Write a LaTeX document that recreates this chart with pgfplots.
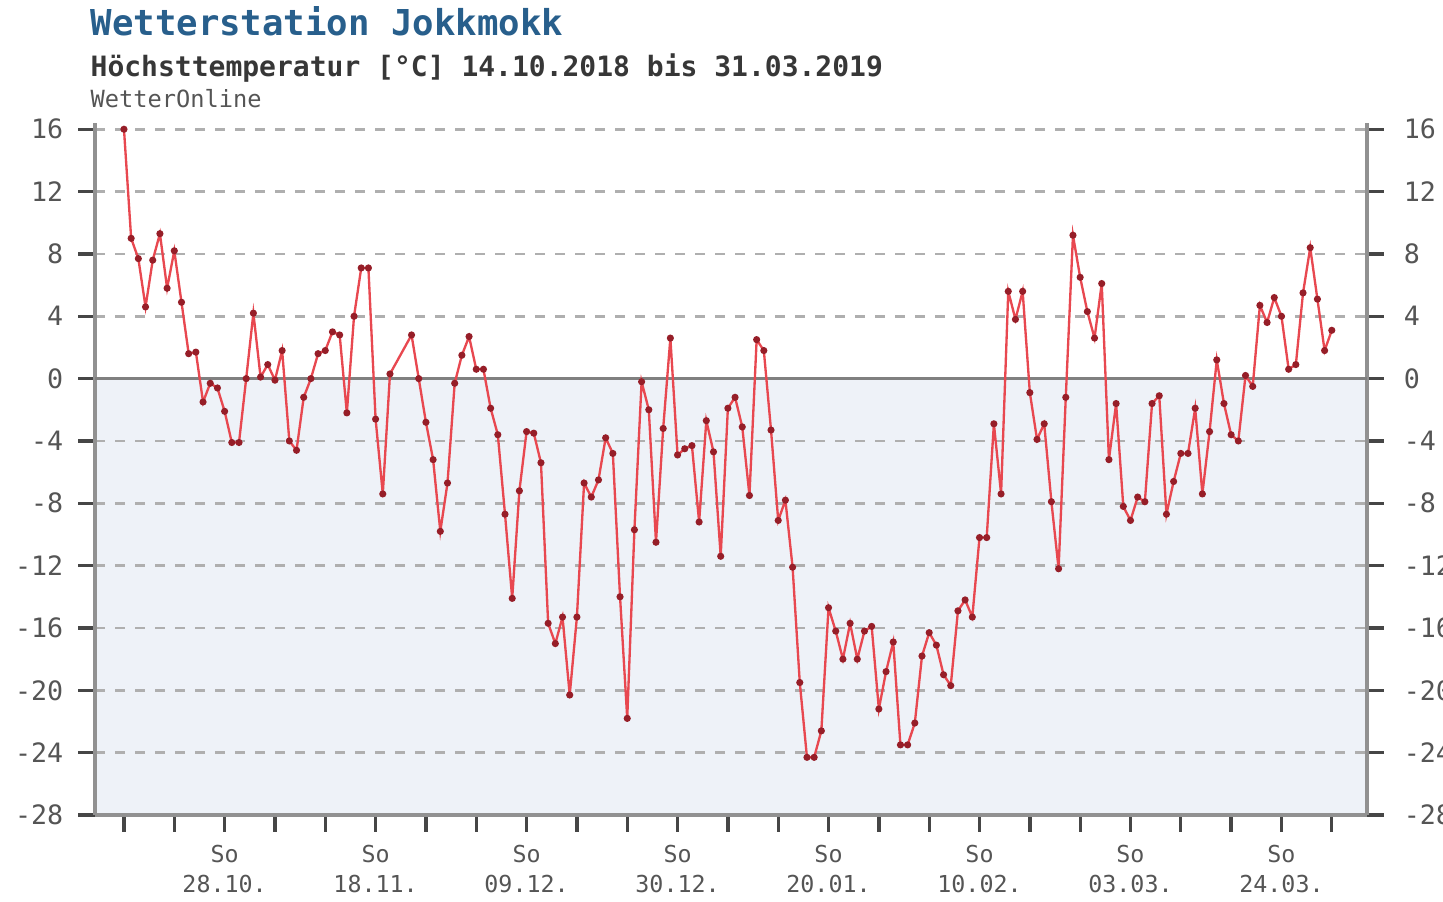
\documentclass[border=0pt]{standalone}
\usepackage{fontspec}
\setmainfont{DejaVu Sans Mono}
\usepackage{pgfplots}
\pgfplotsset{compat=1.18}
\definecolor{titleblue}{RGB}{40,95,140}
\definecolor{subgray}{RGB}{55,55,55}
\definecolor{bgblue}{RGB}{238,242,248}
\definecolor{linered}{RGB}{232,72,80}
\definecolor{markred}{RGB}{150,30,40}
\definecolor{axgray}{RGB}{145,145,145}
\definecolor{tickgray}{RGB}{70,70,70}
\definecolor{gridgray}{RGB}{175,175,175}
\definecolor{labgray}{RGB}{85,85,85}
\begin{document}
\begin{tikzpicture}
\pgfplotsset{set layers,
  common/.style={
    scale only axis, width=381.6pt, height=207.6pt,
    xmin=-4.03, xmax=172.9, ymin=-28, ymax=16.4,
    ytick={-28,-24,...,16},
    tick align=outside, major tick length=5pt,
    tick style={tickgray, line width=1pt},
    axis line style={axgray, line width=1.3pt, -},
    /pgf/number format/assume math mode=true,
  }}
\begin{axis}[common,
  axis x line*=bottom, axis y line*=left,
  yticklabel style={font=\fontsize{8}{9}\selectfont, text=labgray, xshift=-1pt},
  xtick={0,7,...,168},
  xticklabels={,,{So\\28.10.},,,{So\\18.11.},,,{So\\09.12.},,,{So\\30.12.},,,{So\\20.01.},,,{So\\10.02.},,,{So\\03.03.},,,{So\\24.03.},},
  xticklabel style={font=\fontsize{7}{9}\selectfont, text=labgray, align=center, yshift=-0.5pt},
  ymajorgrids, major grid style={gridgray, line width=0.8pt, dash pattern=on 3pt off 3pt},
]
\begin{pgfonlayer}{axis background}
\fill[bgblue] (axis cs:-4.03,-28) rectangle (axis cs:172.9,0);
\end{pgfonlayer}
\draw[gray, line width=0.8pt] (axis cs:-4.03,0) -- (axis cs:172.9,0);
\addplot[linered, line width=0.7pt, mark=*, mark size=0.7pt, mark options={fill=markred, draw=markred}] coordinates {
(0,16) (1,9.0) (2,7.7) (3,4.6) (4,7.6) (5,9.3) (6,5.8) (7,8.2) (8,4.9) (9,1.6)
(10,1.7) (11,-1.5) (12,-0.3) (13,-0.6) (14,-2.1) (15,-4.1) (16,-4.1) (17,0.0) (18,4.2) (19,0.1)
(20,0.9) (21,-0.1) (22,1.8) (23,-4.0) (24,-4.6) (25,-1.2) (26,0.0) (27,1.6) (28,1.8) (29,3.0)
(30,2.8) (31,-2.2) (32,4.0) (33,7.1) (34,7.1) (35,-2.6) (36,-7.4) (37,0.3)
(40,2.8) (41,0.0) (42,-2.8) (43,-5.2) (44,-9.8) (45,-6.7) (46,-0.3) (47,1.5) (48,2.7) (49,0.6)
(50,0.6) (51,-1.9) (52,-3.6) (53,-8.7) (54,-14.1) (55,-7.2) (56,-3.4) (57,-3.5) (58,-5.4) (59,-15.7)
(60,-17.0) (61,-15.3) (62,-20.3) (63,-15.3) (64,-6.7) (65,-7.6) (66,-6.5) (67,-3.8) (68,-4.8) (69,-14.0)
(70,-21.8) (71,-9.7) (72,-0.2) (73,-2.0) (74,-10.5) (75,-3.2) (76,2.6) (77,-4.9) (78,-4.5) (79,-4.3)
(80,-9.2) (81,-2.7) (82,-4.7) (83,-11.4) (84,-1.9) (85,-1.2) (86,-3.1) (87,-7.5) (88,2.5) (89,1.8)
(90,-3.3) (91,-9.1) (92,-7.8) (93,-12.1) (94,-19.5) (95,-24.3) (96,-24.3) (97,-22.6) (98,-14.7) (99,-16.2)
(100,-18.0) (101,-15.7) (102,-18.0) (103,-16.2) (104,-15.9) (105,-21.2) (106,-18.8) (107,-16.9) (108,-23.5) (109,-23.5)
(110,-22.1) (111,-17.8) (112,-16.3) (113,-17.1) (114,-19.0) (115,-19.7) (116,-14.9) (117,-14.2) (118,-15.3) (119,-10.2)
(120,-10.2) (121,-2.9) (122,-7.4) (123,5.6) (124,3.8) (125,5.6) (126,-0.9) (127,-3.9) (128,-2.9) (129,-7.9)
(130,-12.2) (131,-1.2) (132,9.2) (133,6.5) (134,4.3) (135,2.6) (136,6.1) (137,-5.2) (138,-1.6) (139,-8.2)
(140,-9.1) (141,-7.6) (142,-7.9) (143,-1.6) (144,-1.1) (145,-8.7) (146,-6.6) (147,-4.8) (148,-4.8) (149,-1.9)
(150,-7.4) (151,-3.4) (152,1.2) (153,-1.6) (154,-3.6) (155,-4.0) (156,0.2) (157,-0.5) (158,4.7) (159,3.6)
(160,5.2) (161,4.0) (162,0.6) (163,0.9) (164,5.5) (165,8.4) (166,5.1) (167,1.8) (168,3.1)
};
\end{axis}
\begin{axis}[common,
  axis y line*=right, hide x axis,
  yticklabel style={font=\fontsize{8}{9}\selectfont, text=labgray, xshift=2.5pt},
]
\end{axis}
\node[anchor=base west, inner sep=0, font=\bfseries\fontsize{10.7}{12}\selectfont, text=titleblue] at (-1.5pt,233.7pt) {Wetterstation Jokkmokk};
\node[anchor=base west, inner sep=0, font=\bfseries\fontsize{8.4}{10}\selectfont, text=subgray] at (-1.5pt,221.4pt) {Höchsttemperatur [°C] 14.10.2018 bis 31.03.2019};
\node[anchor=base west, inner sep=0, font=\fontsize{7.1}{8}\selectfont, text=labgray] at (-1.5pt,212.1pt) {WetterOnline};
\pgfresetboundingbox
\useasboundingbox (-28.5pt,-25.8pt) rectangle (404.4pt,244.5pt);
\end{tikzpicture}
\end{document}
